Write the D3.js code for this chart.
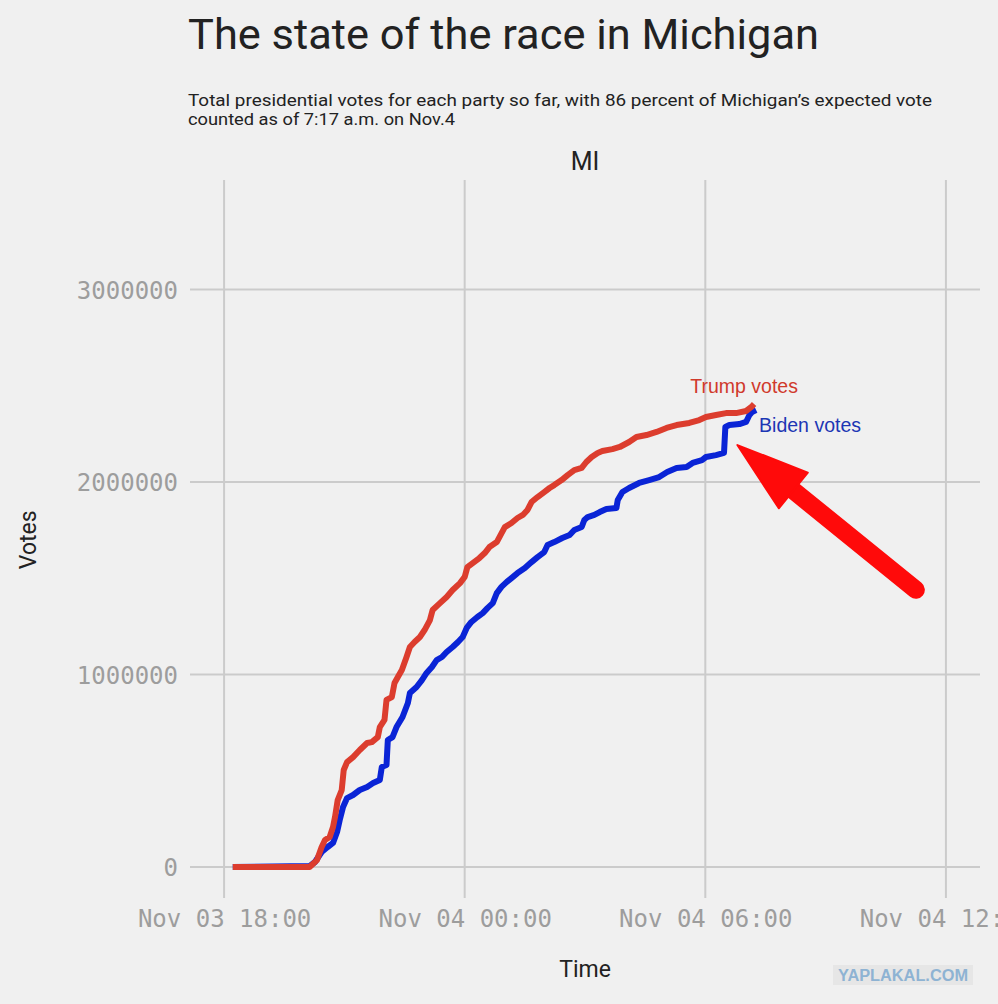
<!DOCTYPE html>
<html>
<head>
<meta charset="utf-8">
<script src="https://cdn.jsdelivr.net/npm/d3@7"></script>
<style>
  body { margin: 0; background: #f0f0f0; }
  svg { display: block; }
</style>
</head>
<body>
<svg id="svg" width="998" height="1004"></svg>
<script>
// vote counts (Trump, red)
var trumpTimes = ["2020-11-03 18:13","2020-11-03 20:08","2020-11-03 20:19","2020-11-03 20:26","2020-11-03 20:31","2020-11-03 20:38",
  "2020-11-03 20:43","2020-11-03 20:46","2020-11-03 20:50","2020-11-03 20:56","2020-11-03 20:59","2020-11-03 21:04",
  "2020-11-03 21:13","2020-11-03 21:23","2020-11-03 21:34","2020-11-03 21:41","2020-11-03 21:50","2020-11-03 21:53",
  "2020-11-03 22:00","2020-11-03 22:03","2020-11-03 22:11","2020-11-03 22:15","2020-11-03 22:20","2020-11-03 22:26",
  "2020-11-03 22:33","2020-11-03 22:38","2020-11-03 22:45","2020-11-03 22:53","2020-11-03 23:00","2020-11-03 23:08",
  "2020-11-03 23:12","2020-11-03 23:23","2020-11-03 23:33","2020-11-03 23:42","2020-11-03 23:53","2020-11-04 00:00",
  "2020-11-04 00:04","2020-11-04 00:12","2020-11-04 00:22","2020-11-04 00:30","2020-11-04 00:37","2020-11-04 00:48",
  "2020-11-04 01:00","2020-11-04 01:10","2020-11-04 01:19","2020-11-04 01:27","2020-11-04 01:34","2020-11-04 01:40",
  "2020-11-04 01:49","2020-11-04 01:59","2020-11-04 02:07","2020-11-04 02:14","2020-11-04 02:25","2020-11-04 02:34",
  "2020-11-04 02:44","2020-11-04 02:55","2020-11-04 03:02","2020-11-04 03:10","2020-11-04 03:19","2020-11-04 03:26",
  "2020-11-04 03:41","2020-11-04 03:52","2020-11-04 04:06","2020-11-04 04:17","2020-11-04 04:32","2020-11-04 04:47",
  "2020-11-04 05:02","2020-11-04 05:17","2020-11-04 05:36","2020-11-04 05:51","2020-11-04 06:01","2020-11-04 06:16",
  "2020-11-04 06:31","2020-11-04 06:46","2020-11-04 07:01","2020-11-04 07:09","2020-11-04 07:13"];
var trumpVotes = [0,0,36000,104000,140000,156000,
  208000,260000,348000,400000,504000,545000,
  571000,608000,644000,649000,675000,727000,
  764000,868000,883000,956000,987000,1023000,
  1091000,1143000,1169000,1195000,1231000,1283000,
  1335000,1371000,1403000,1439000,1475000,1507000,
  1558000,1579000,1605000,1631000,1662000,1688000,
  1766000,1787000,1813000,1829000,1855000,1896000,
  1922000,1948000,1969000,1984000,2010000,2036000,
  2062000,2073000,2104000,2130000,2151000,2161000,
  2171000,2182000,2208000,2234000,2244000,2260000,
  2281000,2296000,2307000,2322000,2338000,2348000,
  2358000,2358000,2369000,2390000,2405000];

// Biden, blue
var bidenTimes = ["2020-11-03 18:13","2020-11-03 20:08","2020-11-03 20:16","2020-11-03 20:26","2020-11-03 20:35","2020-11-03 20:43",
  "2020-11-03 20:49","2020-11-03 20:53","2020-11-03 20:58","2020-11-03 21:04","2020-11-03 21:13","2020-11-03 21:23",
  "2020-11-03 21:34","2020-11-03 21:43","2020-11-03 21:53","2020-11-03 21:56","2020-11-03 22:03","2020-11-03 22:05",
  "2020-11-03 22:12","2020-11-03 22:18","2020-11-03 22:27","2020-11-03 22:35","2020-11-03 22:38","2020-11-03 22:48",
  "2020-11-03 22:56","2020-11-03 23:03","2020-11-03 23:11","2020-11-03 23:18","2020-11-03 23:26","2020-11-03 23:33",
  "2020-11-03 23:42","2020-11-03 23:50","2020-11-03 23:57","2020-11-04 00:03","2020-11-04 00:10","2020-11-04 00:19",
  "2020-11-04 00:27","2020-11-04 00:34","2020-11-04 00:42","2020-11-04 00:48","2020-11-04 00:55","2020-11-04 01:03",
  "2020-11-04 01:10","2020-11-04 01:19","2020-11-04 01:30","2020-11-04 01:40","2020-11-04 01:49","2020-11-04 01:59",
  "2020-11-04 02:04","2020-11-04 02:14","2020-11-04 02:26","2020-11-04 02:37","2020-11-04 02:44","2020-11-04 02:55",
  "2020-11-04 02:59","2020-11-04 03:04","2020-11-04 03:14","2020-11-04 03:22","2020-11-04 03:32","2020-11-04 03:47",
  "2020-11-04 03:49","2020-11-04 03:56","2020-11-04 04:06","2020-11-04 04:21","2020-11-04 04:36","2020-11-04 04:51",
  "2020-11-04 05:03","2020-11-04 05:17","2020-11-04 05:32","2020-11-04 05:41","2020-11-04 05:55","2020-11-04 06:01",
  "2020-11-04 06:16","2020-11-04 06:28","2020-11-04 06:30","2020-11-04 06:36","2020-11-04 06:51","2020-11-04 07:01",
  "2020-11-04 07:06","2020-11-04 07:10","2020-11-04 07:16"];
var bidenVotes = [0,5000,26000,78000,104000,125000,
  182000,244000,312000,358000,374000,400000,
  416000,436000,452000,520000,530000,660000,
  675000,727000,779000,852000,904000,935000,
  971000,1008000,1039000,1075000,1091000,1117000,
  1143000,1169000,1195000,1242000,1273000,1299000,
  1319000,1345000,1371000,1423000,1455000,1481000,
  1501000,1527000,1553000,1584000,1610000,1636000,
  1673000,1688000,1709000,1725000,1751000,1766000,
  1803000,1818000,1829000,1844000,1860000,1865000,
  1907000,1948000,1969000,1995000,2010000,2026000,
  2052000,2073000,2078000,2099000,2114000,2130000,
  2140000,2151000,2286000,2296000,2301000,2312000,
  2348000,2364000,2374000];

var yTicks = [0, 1000000, 2000000, 3000000];
var xTickLabels = ["2020-11-03 18:00","2020-11-04 00:00","2020-11-04 06:00","2020-11-04 12:00"];

// arrow annotation, in data terms: [tail time, tail votes], [tip time, tip votes]
var arrowTail = ["2020-11-04 11:15", 1440000];
var arrowTip = ["2020-11-04 06:48", 2192000];

var parse = d3.timeParse("%Y-%m-%d %H:%M");
var svg = d3.select("#svg");

var x = d3.scaleTime()
    .domain([parse("2020-11-03 17:09"), parse("2020-11-04 12:51")])
    .range([190, 980]);
var y = d3.scaleLinear()
    .domain([-161000, 3569000])
    .range([898, 180]);

svg.append("rect").attr("width", 998).attr("height", 1004).attr("fill", "#f0f0f0");

// titles
svg.append("text")
    .attr("x", 188).attr("y", 49)
    .attr("font-family", "Roboto").attr("font-size", 43).attr("fill", "#222")
    .attr("textLength", 631).attr("lengthAdjust", "spacingAndGlyphs")
    .text("The state of the race in Michigan");
svg.append("text")
    .attr("x", 188).attr("y", 106)
    .attr("font-family", "Roboto").attr("font-size", 16.5).attr("fill", "#222")
    .attr("textLength", 744).attr("lengthAdjust", "spacingAndGlyphs")
    .text("Total presidential votes for each party so far, with 86 percent of Michigan\u2019s expected vote");
svg.append("text")
    .attr("x", 188).attr("y", 125)
    .attr("font-family", "Roboto").attr("font-size", 16.5).attr("fill", "#222")
    .attr("textLength", 267).attr("lengthAdjust", "spacingAndGlyphs")
    .text("counted as of 7:17 a.m. on Nov.4");
svg.append("text")
    .attr("x", (x.range()[0] + x.range()[1]) / 2).attr("y", 170)
    .attr("text-anchor", "middle")
    .attr("font-family", "Roboto").attr("font-size", 25).attr("fill", "#222")
    .text("MI");

// grid
var ticksX = xTickLabels.map(parse);
svg.append("g").selectAll("line").data(ticksX).enter().append("line")
    .attr("x1", function(d) { return x(d); }).attr("x2", function(d) { return x(d); })
    .attr("y1", y.range()[1]).attr("y2", y.range()[0])
    .attr("stroke", "#cbcbcb").attr("stroke-width", 2);
svg.append("g").selectAll("line").data(yTicks).enter().append("line")
    .attr("x1", x.range()[0]).attr("x2", x.range()[1])
    .attr("y1", function(d) { return y(d); }).attr("y2", function(d) { return y(d); })
    .attr("stroke", "#cbcbcb").attr("stroke-width", 2);

// axes (text only)
var xAxis = d3.axisBottom(x).tickValues(ticksX).tickFormat(d3.timeFormat("%b %d %H:%M")).tickSize(0).tickPadding(0);
var gx = svg.append("g").attr("transform", "translate(0,927)").call(xAxis);
var yAxis = d3.axisLeft(y).tickValues(yTicks).tickFormat(d3.format("d")).tickSize(0).tickPadding(0);
var gy = svg.append("g").attr("transform", "translate(178,0)").call(yAxis);
[gx, gy].forEach(function(g) {
    g.select(".domain").remove();
    g.selectAll("text")
        .attr("font-family", "DejaVu Sans Mono").attr("font-size", 24).attr("fill", "#9d9d9d");
});
gx.selectAll("text").attr("dy", 0);
gy.selectAll("text").attr("dy", "0.36em");

svg.append("text")
    .attr("x", (x.range()[0] + x.range()[1]) / 2).attr("y", 977)
    .attr("text-anchor", "middle")
    .attr("font-family", "Roboto").attr("font-size", 23).attr("fill", "#222")
    .text("Time");
svg.append("text")
    .attr("transform", "translate(36," + y(1700000) + ") rotate(-90)")
    .attr("text-anchor", "middle")
    .attr("font-family", "Roboto").attr("font-size", 23).attr("fill", "#222")
    .text("Votes");

// lines
var line = d3.line()
    .x(function(d) { return x(d[0]); })
    .y(function(d) { return y(d[1]); });
var biden = bidenTimes.map(function(t, i) { return [parse(t), bidenVotes[i]]; });
var trump = trumpTimes.map(function(t, i) { return [parse(t), trumpVotes[i]]; });

svg.append("path").datum(biden).attr("d", line)
    .attr("fill", "none").attr("stroke", "#0a24d6").attr("stroke-width", 6)
    .attr("stroke-linejoin", "round");
svg.append("path").datum(trump).attr("d", line)
    .attr("fill", "none").attr("stroke", "#dc3d2e").attr("stroke-width", 6)
    .attr("stroke-linejoin", "round");

// end labels
var tEnd = trump[trump.length - 1], bEnd = biden[biden.length - 1];
svg.append("text")
    .attr("x", x(tEnd[0]) - 10).attr("y", y(tEnd[1]) - 11)
    .attr("text-anchor", "middle")
    .attr("font-family", "Liberation Sans").attr("font-size", 19.5).attr("fill", "#d03a2c")
    .text("Trump votes");
svg.append("text")
    .attr("x", x(bEnd[0]) + 3).attr("y", y(bEnd[1]) + 22)
    .attr("font-family", "Liberation Sans").attr("font-size", 19.5).attr("fill", "#1c36b4")
    .text("Biden votes");

// red arrow
var ax0 = x(parse(arrowTail[0])), ay0 = y(arrowTail[1]);
var ax1 = x(parse(arrowTip[0])), ay1 = y(arrowTip[1]);
var ang = Math.atan2(ay1 - ay0, ax1 - ax0);
var headLen = 72, headHalf = 23;
var bx = ax1 - headLen * Math.cos(ang), by = ay1 - headLen * Math.sin(ang);
var px = -Math.sin(ang), py = Math.cos(ang);
svg.append("line")
    .attr("x1", ax0).attr("y1", ay0)
    .attr("x2", bx + 10 * Math.cos(ang)).attr("y2", by + 10 * Math.sin(ang))
    .attr("stroke", "#ff0a0a").attr("stroke-width", 18).attr("stroke-linecap", "round");
svg.append("path")
    .attr("d", "M" + ax1 + "," + ay1 +
        "L" + (bx + headHalf * px) + "," + (by + headHalf * py) +
        "L" + (bx - headHalf * px) + "," + (by - headHalf * py) + "Z")
    .attr("fill", "#ff0a0a").attr("stroke", "#ff0a0a").attr("stroke-width", 2).attr("stroke-linejoin", "round");

// watermark
svg.append("rect").attr("x", 833).attr("y", 965).attr("width", 140).attr("height", 20).attr("fill", "#e6e6e6");
svg.append("text")
    .attr("x", 903).attr("y", 981).attr("text-anchor", "middle")
    .attr("font-family", "Liberation Sans").attr("font-weight", "bold").attr("font-size", 16)
    .attr("fill", "#8eb3d3")
    .attr("textLength", 130).attr("lengthAdjust", "spacingAndGlyphs")
    .text("YAPLAKAL.COM");
</script>
</body>
</html>
